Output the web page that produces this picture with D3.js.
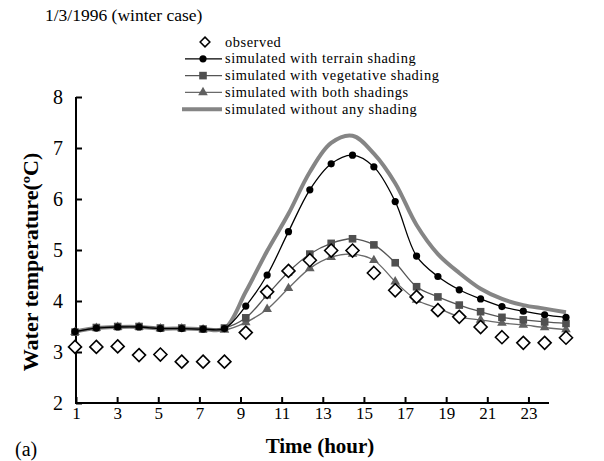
<!DOCTYPE html>
<html>
<head>
<meta charset="utf-8">
<script src="https://cdn.jsdelivr.net/npm/d3@7"></script>
<style>
  html, body { margin: 0; padding: 0; background: #fff; }
  svg text { font-family: "Liberation Serif", "Times New Roman", serif; fill: #000; }
</style>
</head>
<body>
<svg id="chart" width="604" height="461"></svg>
<script>
const hours = d3.range(1, 25);
const observed = [3.10,3.10,3.11,2.94,2.95,2.81,2.81,2.81,3.38,4.18,4.59,4.80,4.99,4.99,4.55,4.21,4.08,3.82,3.69,3.49,3.29,3.18,3.18,3.28];
const terrain = [3.40,3.47,3.49,3.49,3.46,3.46,3.45,3.46,3.90,4.51,5.36,6.18,6.69,6.86,6.63,5.95,4.88,4.48,4.22,4.04,3.89,3.80,3.73,3.68];
const vegetative = [3.39,3.48,3.50,3.50,3.47,3.47,3.45,3.47,3.67,4.12,4.57,4.92,5.13,5.22,5.10,4.75,4.28,4.08,3.92,3.79,3.68,3.63,3.59,3.56];
const both = [3.39,3.47,3.49,3.49,3.46,3.46,3.44,3.43,3.58,3.84,4.25,4.64,4.86,4.92,4.80,4.38,4.02,3.86,3.69,3.63,3.57,3.53,3.48,3.44];
const noShading = [3.40,3.47,3.49,3.49,3.46,3.46,3.45,3.46,4.18,4.98,5.71,6.53,7.10,7.24,6.89,6.31,5.49,4.92,4.55,4.24,4.04,3.92,3.85,3.78];
const xTicks = [1,3,5,7,9,11,13,15,17,19,21,23];
const yTicks = [2,3,4,5,6,7,8];
const legendLabels = ["observed","simulated with terrain shading","simulated with vegetative shading","simulated with both shadings","simulated without any shading"];

const svg = d3.select("#chart");
svg.append("rect").attr("width",604).attr("height",461).attr("fill","#fff");

const xAxisScale = d3.scaleLinear().domain([1,24]).range([76,549]);
const xData = d3.scaleLinear().domain([1,24]).range([75,566]);
const y = d3.scaleLinear().domain([2,8]).range([403,97]);

// axes
const gx = svg.append("g").attr("transform","translate(0,403)")
  .call(d3.axisBottom(xAxisScale).tickValues(xTicks).tickSizeInner(-6).tickSizeOuter(0).tickPadding(4).tickFormat(d3.format("d")));
const gy = svg.append("g").attr("transform","translate(76,0)")
  .call(d3.axisLeft(y).tickValues(yTicks).tickSizeInner(-6).tickSizeOuter(0).tickPadding(13).tickFormat(d3.format("d")));
[gx, gy].forEach(g => {
  g.select(".domain").attr("stroke","#000").attr("stroke-width",2);
  g.selectAll(".tick line").attr("stroke","#000").attr("stroke-width",2);
  g.selectAll(".tick text").attr("font-family","Liberation Serif").attr("fill","#000");
});
gx.selectAll(".tick text").attr("font-size",17);
gy.selectAll(".tick text").attr("font-size",20);
gx.select(".domain").attr("d","M75,0H549");
gy.select(".domain").attr("d","M0,97V404");

const line = d3.line().x((d,i)=>xData(hours[i])).y(d=>y(d)).curve(d3.curveCatmullRom.alpha(0.5));

// no shading thick gray
svg.append("path").datum(noShading).attr("d",line).attr("fill","none").attr("stroke","#858585").attr("stroke-width",4);

// both shadings
svg.append("path").datum(both).attr("d",line).attr("fill","none").attr("stroke","#6a6a6a").attr("stroke-width",1.3);
svg.append("g").selectAll("path").data(both).join("path")
  .attr("d", d3.symbol().type(d3.symbolTriangle).size(40))
  .attr("transform",(d,i)=>`translate(${xData(hours[i])},${y(d)})`)
  .attr("fill","#606060");

// vegetative
svg.append("path").datum(vegetative).attr("d",line).attr("fill","none").attr("stroke","#555").attr("stroke-width",1.3);
svg.append("g").selectAll("rect").data(vegetative).join("rect")
  .attr("x",(d,i)=>xData(hours[i])-3.8).attr("y",d=>y(d)-3.8)
  .attr("width",7.6).attr("height",7.6).attr("fill","#505050");

// terrain
svg.append("path").datum(terrain).attr("d",line).attr("fill","none").attr("stroke","#000").attr("stroke-width",1.3);
svg.append("g").selectAll("circle").data(terrain).join("circle")
  .attr("cx",(d,i)=>xData(hours[i])).attr("cy",d=>y(d)).attr("r",3.6).attr("fill","#000");

// observed diamonds
const diamond = "M0,-6.5L6.5,0L0,6.5L-6.5,0Z";
svg.append("g").selectAll("path").data(observed).join("path")
  .attr("d",diamond)
  .attr("transform",(d,i)=>`translate(${xData(hours[i])},${y(d)})`)
  .attr("fill","#fff").attr("stroke","#000").attr("stroke-width",1.6);

// legend
const lg = svg.append("g");
const rowY = [42,58.8,75.6,92.4,109.2];
legendLabels.forEach((lab,i)=>{
  const yy = rowY[i];
  if (i===0) {
    lg.append("path").attr("d",diamond).attr("transform",`translate(205,${yy}) scale(0.75)`)
      .attr("fill","#fff").attr("stroke","#000").attr("stroke-width",2);
  } else if (i===1) {
    lg.append("line").attr("x1",185).attr("x2",222).attr("y1",yy).attr("y2",yy).attr("stroke","#000").attr("stroke-width",1.3);
    lg.append("circle").attr("cx",203).attr("cy",yy).attr("r",3.6).attr("fill","#000");
  } else if (i===2) {
    lg.append("line").attr("x1",185).attr("x2",222).attr("y1",yy).attr("y2",yy).attr("stroke","#555").attr("stroke-width",1.3);
    lg.append("rect").attr("x",199.2).attr("y",yy-3.8).attr("width",7.6).attr("height",7.6).attr("fill","#505050");
  } else if (i===3) {
    lg.append("line").attr("x1",185).attr("x2",222).attr("y1",yy).attr("y2",yy).attr("stroke","#6a6a6a").attr("stroke-width",1.3);
    lg.append("path").attr("d",d3.symbol().type(d3.symbolTriangle).size(40)).attr("transform",`translate(203,${yy})`).attr("fill","#606060");
  } else {
    lg.append("line").attr("x1",182).attr("x2",222).attr("y1",yy).attr("y2",yy).attr("stroke","#858585").attr("stroke-width",4);
  }
  lg.append("text").attr("x",225).attr("y",yy+4.5).attr("font-size",14.4).attr("letter-spacing",0.55).text(lab);
});

// titles
svg.append("text").attr("x",45).attr("y",21).attr("font-size",17.5).text("1/3/1996 (winter case)");
svg.append("text").attr("x",320).attr("y",453).attr("text-anchor","middle").attr("font-size",21).attr("font-weight","bold").text("Time (hour)");
svg.append("text").attr("transform","translate(38,262) rotate(-90)").attr("text-anchor","middle").attr("font-size",22).attr("font-weight","bold").text("Water temperature(ºC)");
svg.append("text").attr("x",15).attr("y",456).attr("font-size",20).text("(a)");
</script>
</body>
</html>
